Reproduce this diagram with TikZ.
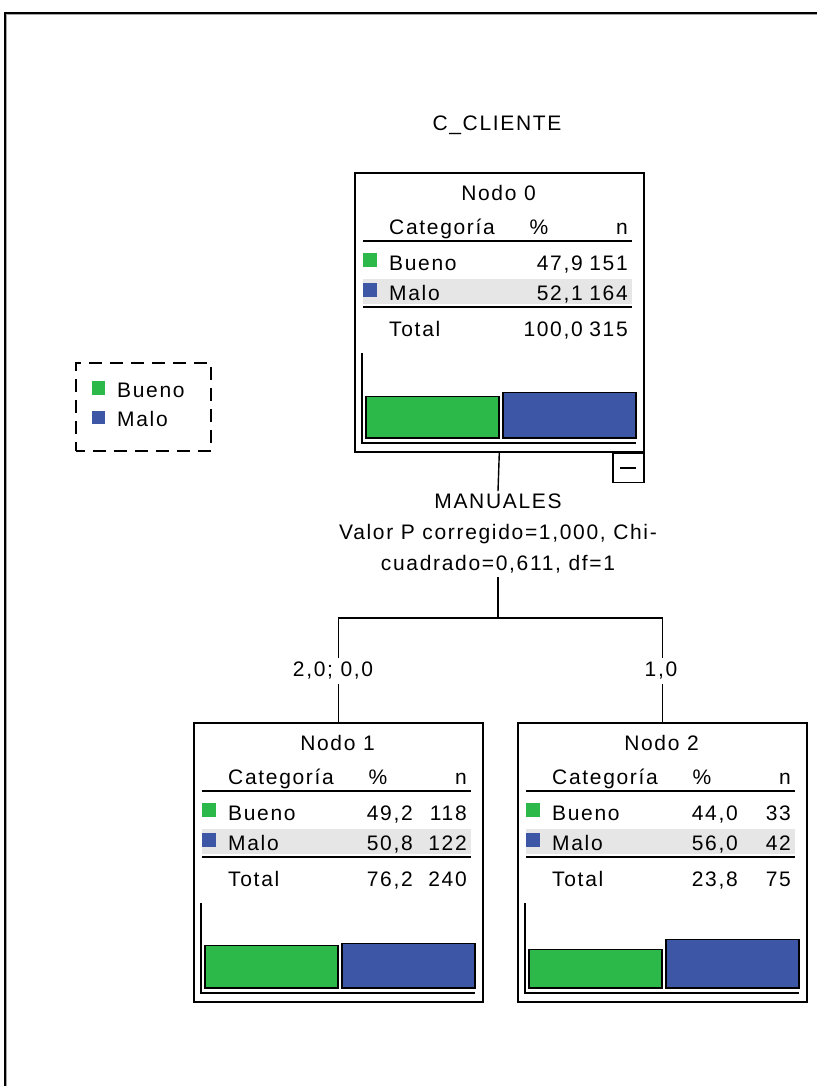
\documentclass[tikz,border=0pt]{standalone}
\usepackage{fontspec}
\newfontfamily\spssfont{Liberation Sans}[LetterSpace=8]
\definecolor{bueno}{RGB}{45,184,74}
\definecolor{malo}{RGB}{62,86,166}
\definecolor{band}{RGB}{230,230,230}
\tikzset{
  txt/.style={inner sep=0pt, font=\spssfont\fontsize{21}{31}\selectfont},
  nodebox/.style={draw, line width=1.6pt, minimum width=289pt, minimum height=279pt,
    anchor=north west, inner sep=0pt},
  rule/.style={line width=1.4pt},
  axisline/.style={line width=1.2pt},
  bar/.style={draw, line width=1.2pt},
  conn/.style={line width=1.4pt},
}
% One tree node: #1 index, #2 top-left corner, #3/#4 Bueno % and n,
% #5/#6 Malo % and n, #7/#8 total % and n, #9 right edge of the % column
\newcommand{\statbox}[9]{%
  \node[nodebox] (n#1) at (#2) {};
  \begin{scope}[shift={(n#1.north west)}]
    \fill[band] (9,107) rectangle (278,132);
    \node[txt, anchor=base] (n#1-title) at (144.5,28.5) {Nodo #1};
    \node[txt, anchor=base west] (n#1-hcat) at (35,62.5) {Categoría};
    \node[txt, anchor=base] (n#1-hpct) at (185,62.5) {\%};
    \node[txt, anchor=base east] (n#1-hn) at (274,62.5) {n};
    \draw[rule] (9,69) -- (278,69);
    \fill[bueno] (9,81) rectangle (23,95);
    \node[txt, anchor=base west] (n#1-b) at (35,98.5) {Bueno};
    \node[txt, anchor=base east] (n#1-bp) at (#9,98.5) {#3};
    \node[txt, anchor=base east] (n#1-bn) at (274,98.5) {#4};
    \fill[malo] (9,111) rectangle (23,125);
    \node[txt, anchor=base west] (n#1-m) at (35,128) {Malo};
    \node[txt, anchor=base east] (n#1-mp) at (#9,128) {#5};
    \node[txt, anchor=base east] (n#1-mn) at (274,128) {#6};
    \draw[line width=2pt] (9,135) -- (278,135);
    \node[txt, anchor=base west] (n#1-t) at (35,164.5) {Total};
    \node[txt, anchor=base east] (n#1-tp) at (#9,164.5) {#7};
    \node[txt, anchor=base east] (n#1-tn) at (274,164.5) {#8};
  \end{scope}}
% Bar chart inside a tree node: #1 index, #2 Bueno %, #3 Malo %
\newcommand{\statbars}[3]{%
  \begin{scope}[shift={(n#1.north west)}]
    \draw[axisline] (8,181) |- (282,271);
    \draw[bar, fill=bueno] (12,266) rectangle (145,{266-0.87*#2});
    \draw[bar, fill=malo] (149,266) rectangle (282,{266-0.87*#3});
  \end{scope}}

\begin{document}
\begin{tikzpicture}[x=1pt,y=-1pt]
  \useasboundingbox (0,0) rectangle (817,1086);
  \fill[white] (0,0) rectangle (817,1086);
  % window frame
  \draw[black!35, line width=1.2pt] (6.8,1086) -- (6.8,14.8) -- (817,14.8);
  \draw[line width=1.4pt] (5,1086) -- (5,13) -- (817,13);

  \node[txt, anchor=base] (title) at (497,130.5) {C\_CLIENTE};

  % legend
  \node[draw, dash pattern=on 13pt off 8pt, dash phase=4pt, line width=1.8pt,
    minimum width=135pt, minimum height=88pt, anchor=north west, inner sep=0pt]
    (legend) at (75,362) {};
  \fill[bueno] (92,381) rectangle (105,395);
  \node[txt, anchor=base west] (legend-b) at (117,397.5) {Bueno};
  \fill[malo] (92,411) rectangle (105,424);
  \node[txt, anchor=base west] (legend-m) at (117,426.5) {Malo};

  % tree nodes
  \statbox{0}{354,172}{47,9}{151}{52,1}{164}{100,0}{315}{229}
  \statbars{0}{47.9}{52.1}
  \node[draw, line width=1.4pt, minimum width=31pt, minimum height=29pt,
    anchor=north east, inner sep=0pt] (n0-collapse) at (n0.south east) {};
  \draw[line width=1.4pt] ([xshift=-8pt]n0-collapse.center) -- ([xshift=8pt]n0-collapse.center);

  \statbox{1}{193,722}{49,2}{118}{50,8}{122}{76,2}{240}{220}
  \statbars{1}{49.2}{50.8}
  \statbox{2}{517,722}{44,0}{33}{56,0}{42}{23,8}{75}{221}
  \statbars{2}{44.0}{56.0}

  % split description
  \node[txt, align=center, inner sep=3pt] (split) at (498,534)
    {MANUALES\\Valor P corregido=1,000, Chi-\\cuadrado=0,611, df=1};
  \coordinate (junction) at (498,618);
  \node[txt, inner sep=4pt] (lab1) at (333,671) {2,0; 0,0};
  \node[txt, inner sep=4pt] (lab2) at (661,671) {1,0};

  % connectors
  \draw[conn] (n0.south) -- (split.north);
  \draw[conn] (split.south) -- (junction);
  \draw[conn] (n1.north |- lab1.north) |- (junction) -| (n2.north |- lab2.north);
  \draw[conn] (n1.north |- lab1.south) -- (n1.north);
  \draw[conn] (n2.north |- lab2.south) -- (n2.north);
\end{tikzpicture}
\end{document}
